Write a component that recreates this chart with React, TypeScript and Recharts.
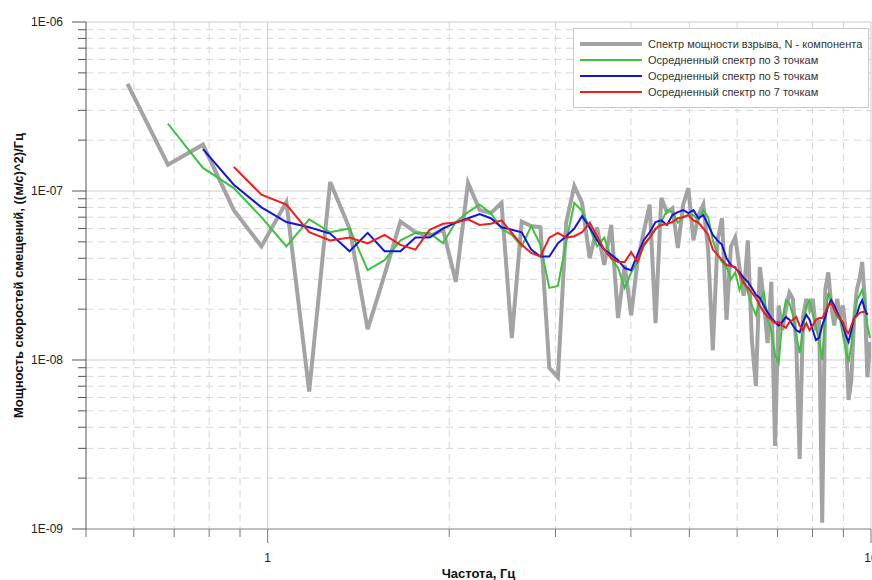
import { LineChart, Line, XAxis, YAxis, CartesianGrid, Legend } from "recharts";

// frequency grid, Hz (step 100/1024)
const freq = [
  0.5859, 0.6836, 0.7813, 0.8789, 0.9766, 1.0742, 1.1719, 1.2695, 1.3672, 1.4648,
  1.5625, 1.6602, 1.7578, 1.8555, 1.9531, 2.0508, 2.1484, 2.2461, 2.3438, 2.4414,
  2.5391, 2.6367, 2.7344, 2.832, 2.9297, 3.0273, 3.125, 3.2227, 3.3203, 3.418,
  3.5156, 3.6133, 3.7109, 3.8086, 3.9063, 4.0039, 4.1016, 4.1992, 4.2969, 4.3945,
  4.4922, 4.5898, 4.6875, 4.7852, 4.8828, 4.9805, 5.0781, 5.1758, 5.2734, 5.3711,
  5.4688, 5.5664, 5.6641, 5.7617, 5.8594, 5.957, 6.0547, 6.1523, 6.25, 6.3477,
  6.4453, 6.543, 6.6406, 6.7383, 6.8359, 6.9336, 7.0313, 7.1289, 7.2266, 7.3242,
  7.4219, 7.5195, 7.6172, 7.7148, 7.8125, 7.9102, 8.0078, 8.1055, 8.2031, 8.3008,
  8.3984, 8.4961, 8.5938, 8.6914, 8.7891, 8.8867, 8.9844, 9.082, 9.1797, 9.2773,
  9.375, 9.4727, 9.5703, 9.668, 9.7656, 9.8633, 9.9609,
];

const spectrum = [
  4.3e-7, 1.43e-7, 1.88e-7, 7.7e-8, 4.7e-8, 8.6e-8, 6.5e-9, 1.13e-7, 6.0e-8, 1.52e-8,
  3.2e-8, 6.6e-8, 5.7e-8, 5.4e-8, 5.9e-8, 2.9e-8, 1.12e-7, 7.7e-8, 7.4e-8, 8.5e-8,
  1.35e-8, 6.6e-8, 6.2e-8, 6.1e-8, 9.0e-9, 7.9e-9, 6.5e-8, 1.07e-7, 8.5e-8, 4.0e-8,
  6.1e-8, 3.65e-8, 6.3e-8, 1.77e-8, 3.65e-8, 1.84e-8, 3.8e-8, 5.7e-8, 8.3e-8, 1.65e-8,
  9.1e-8, 7.5e-8, 7.9e-8, 4.6e-8, 8.3e-8, 1.04e-7, 5.1e-8, 7.2e-8, 8.3e-8, 4.5e-8,
  1.14e-8, 5.1e-8, 6.9e-8, 1.73e-8, 4.7e-8, 5.3e-8, 3.5e-8, 2.4e-8, 5.1e-8, 1.3e-8,
  7.0e-9, 3.55e-8, 2.3e-8, 1.26e-8, 2.9e-8, 3.1e-9, 2.1e-8, 1.5e-8, 2.0e-8, 2.5e-8,
  2.3e-8, 1.23e-8, 2.6e-9, 1.8e-8, 2.3e-8, 2.0e-8, 2.3e-8, 1.5e-8, 1.73e-8, 1.09e-9,
  2.6e-8, 3.3e-8, 2.1e-8, 1.6e-8, 2.3e-8, 1.77e-8, 2.1e-8, 1.5e-8, 5.8e-9, 7.6e-9,
  1.73e-8, 2.6e-8, 3.0e-8, 3.8e-8, 2.3e-8, 7.9e-9, 1.28e-8,
];

const avg3 = [
  null, 2.5e-7, 1.37e-7, 1.04e-7, 7.0e-8, 4.7e-8, 6.8e-8, 5.7e-8, 6.0e-8, 3.4e-8,
  3.9e-8, 5.1e-8, 5.65e-8, 5.65e-8, 4.9e-8, 6.55e-8, 7.5e-8, 8.3e-8, 7.4e-8, 6.0e-8,
  5.5e-8, 4.7e-8, 6.2e-8, 4.8e-8, 2.67e-8, 2.74e-8, 5.0e-8, 8.5e-8, 7.6e-8, 6.0e-8,
  4.7e-8, 5.3e-8, 4.0e-8, 3.5e-8, 2.67e-8, 3.3e-8, 3.8e-8, 4.7e-8, 5.3e-8, 5.9e-8,
  6.55e-8, 7.7e-8, 7.5e-8, 6.5e-8, 7.0e-8, 7.2e-8, 7.2e-8, 6.7e-8, 7.7e-8, 7.0e-8,
  5.1e-8, 4.2e-8, 3.8e-8, 3.55e-8, 3.0e-8, 3.3e-8, 2.6e-8, 3.0e-8, 2.5e-8, 2.1e-8,
  1.85e-8, 2.26e-8, 2.5e-8, 1.73e-8, 1.5e-8, 1.07e-8, 9.6e-9, 1.73e-8, 2.26e-8, 2.17e-8,
  1.85e-8, 1.4e-8, 1.1e-8, 1.5e-8, 2.1e-8, 2.26e-8, 1.85e-8, 1.55e-8, 1.31e-8, 1.0e-8,
  1.73e-8, 2.5e-8, 2.26e-8, 2.0e-8, 1.8e-8, 1.73e-8, 1.4e-8, 1.15e-8, 9.7e-9, 1.23e-8,
  1.77e-8, 2.26e-8, 2.4e-8, 2.6e-8, 2.26e-8, 1.6e-8, 1.35e-8,
];

const avg5 = [
  null, null, 1.77e-7, 1.09e-7, 8.0e-8, 6.55e-8, 6.1e-8, 5.6e-8, 4.4e-8, 5.65e-8,
  4.4e-8, 4.4e-8, 5.3e-8, 5.3e-8, 6.0e-8, 6.5e-8, 6.9e-8, 7.3e-8, 6.9e-8, 6.1e-8,
  5.9e-8, 5.7e-8, 4.5e-8, 4.1e-8, 4.1e-8, 4.9e-8, 5.4e-8, 6.0e-8, 7.1e-8, 6.1e-8,
  5.1e-8, 4.5e-8, 4.2e-8, 3.9e-8, 3.5e-8, 3.4e-8, 4.2e-8, 5.1e-8, 5.7e-8, 6.55e-8,
  6.7e-8, 6.3e-8, 7.2e-8, 7.5e-8, 7.7e-8, 7.4e-8, 7.7e-8, 6.9e-8, 7.2e-8, 6.3e-8,
  5.5e-8, 5.1e-8, 4.8e-8, 4.0e-8, 3.65e-8, 3.5e-8, 3.3e-8, 3.06e-8, 2.9e-8, 2.67e-8,
  2.43e-8, 2.33e-8, 2.1e-8, 1.92e-8, 1.77e-8, 1.68e-8, 1.6e-8, 1.68e-8, 1.8e-8, 1.73e-8,
  1.6e-8, 1.5e-8, 1.46e-8, 1.68e-8, 1.85e-8, 1.73e-8, 1.5e-8, 1.31e-8, 1.35e-8, 1.6e-8,
  1.8e-8, 2.1e-8, 2.26e-8, 2.1e-8, 1.92e-8, 1.77e-8, 1.6e-8, 1.4e-8, 1.28e-8, 1.5e-8,
  1.77e-8, 1.85e-8, 2.1e-8, 2.26e-8, 2.0e-8, 1.85e-8, null,
];

const avg7 = [
  null, null, null, 1.39e-7, 9.5e-8, 8.3e-8, 5.7e-8, 5.1e-8, 5.3e-8, 4.9e-8,
  5.5e-8, 4.8e-8, 4.5e-8, 5.9e-8, 6.4e-8, 6.5e-8, 6.8e-8, 6.3e-8, 6.4e-8, 6.7e-8,
  5.65e-8, 4.8e-8, 4.3e-8, 4.1e-8, 5.3e-8, 5.65e-8, 5.3e-8, 5.4e-8, 5.7e-8, 6.5e-8,
  5.4e-8, 4.5e-8, 4.0e-8, 3.8e-8, 3.8e-8, 4.35e-8, 3.8e-8, 4.8e-8, 5.3e-8, 6.0e-8,
  6.3e-8, 6.4e-8, 6.55e-8, 6.9e-8, 7.0e-8, 7.2e-8, 6.7e-8, 6.5e-8, 6.0e-8, 5.5e-8,
  4.5e-8, 4.2e-8, 3.9e-8, 3.65e-8, 3.6e-8, 3.55e-8, 3.2e-8, 2.86e-8, 2.67e-8, 2.5e-8,
  2.33e-8, 2.1e-8, 1.92e-8, 1.8e-8, 1.73e-8, 1.65e-8, 1.68e-8, 1.6e-8, 1.55e-8, 1.68e-8,
  1.73e-8, 1.8e-8, 1.6e-8, 1.5e-8, 1.65e-8, 1.5e-8, 1.6e-8, 1.73e-8, 1.77e-8, 1.77e-8,
  1.92e-8, 2.1e-8, 2.17e-8, 2.0e-8, 1.85e-8, 1.77e-8, 1.68e-8, 1.5e-8, 1.44e-8, 1.6e-8,
  1.77e-8, 1.82e-8, 1.9e-8, 1.92e-8, 1.92e-8, null, null,
];

// axes
const xMajor = [1, 10];
const xMinor = [0.6, 0.7, 0.8, 0.9, 2, 3, 4, 5, 6, 7, 8, 9];
const xTicks = [0.5, 0.6, 0.7, 0.8, 0.9, 1, 2, 3, 4, 5, 6, 7, 8, 9, 10];
const yMajor = [1e-9, 1e-8, 1e-7, 1e-6];
const yMajorLabels = ["1E-09", "1E-08", "1E-07", "1E-06"];
const yMinor = [
  2e-9, 3e-9, 4e-9, 5e-9, 6e-9, 7e-9, 8e-9, 9e-9,
  2e-8, 3e-8, 4e-8, 5e-8, 6e-8, 7e-8, 8e-8, 9e-8,
  2e-7, 3e-7, 4e-7, 5e-7, 6e-7, 7e-7, 8e-7, 9e-7,
];
const yTicks = [...yMajor, ...yMinor].sort((a, b) => a - b);

const seriesKeys = ["spec", "a3", "a5", "a7"];
const seriesNames = [
  "Спектр мощности взрыва, N - компонента",
  "Осредненный спектр по 3 точкам",
  "Осредненный спектр по 5 точкам",
  "Осредненный спектр по 7 точкам",
];
const seriesColors = ["#a3a3a3", "#3cc23c", "#1414e0", "#ef1c1c"];
const seriesWidths = [4, 2, 2, 2];

const rows = freq.map((f, i) => ({
  f,
  spec: spectrum[i],
  a3: avg3[i],
  a5: avg5[i],
  a7: avg7[i],
}));

const FONT = '"Liberation Sans", Arial, sans-serif';

function YTick(props: any) {
  const { x, y, payload } = props;
  const idx = yMajor.indexOf(payload.value);
  const major = idx >= 0;
  return (
    <g>
      <line x1={x} x2={x - (major ? 14 : 8)} y1={y} y2={y} stroke="#555" />
      {major && (
        <text x={x - 23} y={y} dy={4} textAnchor="end" fontSize={12} fontFamily={FONT} fill="#222">
          {yMajorLabels[idx]}
        </text>
      )}
    </g>
  );
}

function XTick(props: any) {
  const { x, y, payload } = props;
  const major = xMajor.includes(payload.value);
  return (
    <g>
      <line x1={x} x2={x} y1={y} y2={y + (major ? 14 : 8)} stroke="#777" />
      {major && (
        <text x={x} y={y + 33} textAnchor="middle" fontSize={12} fontFamily={FONT} fill="#222">
          {String(payload.value)}
        </text>
      )}
    </g>
  );
}

function LegendBox() {
  return (
    <div
      style={{
        width: 296, height: 80, boxSizing: "border-box", border: "1px solid #c8c8c8",
        background: "#fff", paddingTop: 7, fontFamily: FONT, fontSize: 11, color: "#333",
      }}
    >
      {seriesNames.map((name, i) => (
        <div key={name} style={{ display: "flex", alignItems: "center", height: 16 }}>
          <svg width={62} height={16} style={{ marginLeft: 6, marginRight: 6 }}>
            <line x1={0} x2={62} y1={8} y2={8} stroke={seriesColors[i]} strokeWidth={seriesWidths[i]} />
          </svg>
          <span style={{ whiteSpace: "nowrap" }}>{name}</span>
        </div>
      ))}
    </div>
  );
}

export default function App() {
  return (
    <div
      style={{
        position: "absolute", left: 0, top: 0, width: 872, height: 580,
        overflow: "hidden", background: "#fff",
      }}
    >
      <LineChart width={900} height={580} data={rows} margin={{ top: 22, right: 29, left: 0, bottom: 0 }}>
        <CartesianGrid horizontalValues={yMinor} verticalValues={xMinor} stroke="#d6d6d6" strokeDasharray="7 5" />
        <CartesianGrid horizontalValues={yMajor} verticalValues={xMajor} stroke="#cccccc" />
        <XAxis
          dataKey="f" type="number" scale="log" domain={[0.5, 10]} allowDataOverflow
          ticks={xTicks} interval={0} tickSize={0} tickMargin={0} tickLine={false}
          tick={<XTick />} height={51} axisLine={{ stroke: "#999" }}
          label={{
            value: "Частота, Гц", position: "insideBottom", offset: 2,
            style: { fontWeight: "bold", fontSize: 13, fill: "#111", fontFamily: FONT },
          }}
        />
        <YAxis
          type="number" scale="log" domain={[1e-9, 1e-6]} allowDataOverflow
          ticks={yTicks} interval={0} tickSize={0} tickMargin={0} tickLine={false}
          tick={<YTick />} width={86} axisLine={{ stroke: "#555" }}
          label={{
            value: "Мощность скоростей смещений, ((м/с)^2)/Гц", angle: -90, position: "insideLeft", offset: 18,
            style: { textAnchor: "middle", fontWeight: "bold", fontSize: 13, fill: "#111", fontFamily: FONT },
          }}
        />
        {seriesKeys.map((k, i) => (
          <Line
            key={k} dataKey={k} name={seriesNames[i]} type="linear" stroke={seriesColors[i]}
            strokeWidth={seriesWidths[i]} dot={false} activeDot={false} isAnimationActive={false}
          />
        ))}
        <Legend
          layout="horizontal" verticalAlign="middle" align="center"
          wrapperStyle={{ left: 573, top: 28, width: 296, height: 80 }}
          content={<LegendBox />}
        />
      </LineChart>
    </div>
  );
}
